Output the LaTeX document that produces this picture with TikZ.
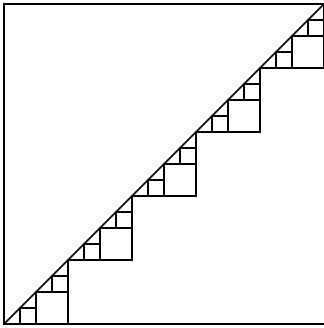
\documentclass[tikz,border=0pt]{standalone}
\begin{document}
\begin{tikzpicture}[x=1pt,y=1pt,
  frame/.style={line width=1.2pt,black},
  cell/.style={line width=1.5pt,black,line join=miter}]
\useasboundingbox (0,0) rectangle (323,328);
\draw[frame] (324,324) -- (4,324) -- (4,4) -- (324,4);
\draw[cell] (4,4) -- (324,324);
\foreach \k in {0,...,4}{
  \pgfmathsetmacro{\xo}{4+64*\k}
  \draw[cell] (\xo,\xo) -- (\xo+64,\xo) -- (\xo+64,\xo+64);
  \draw[cell] (\xo+32,\xo) rectangle (\xo+64,\xo+32);
  \draw[cell] (\xo+16,\xo) rectangle (\xo+32,\xo+16);
  \draw[cell] (\xo+48,\xo+32) rectangle (\xo+64,\xo+48);
}
\end{tikzpicture}
\end{document}
